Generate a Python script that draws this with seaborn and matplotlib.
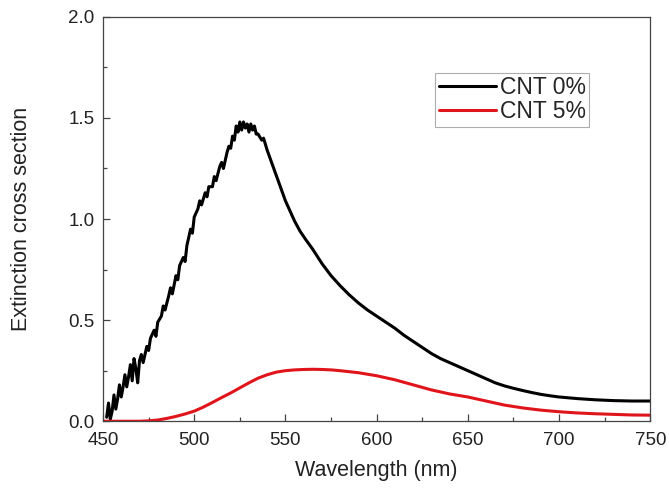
import pandas as pd
import matplotlib
matplotlib.use("Agg")
import matplotlib.pyplot as plt
import seaborn as sns
from matplotlib.ticker import MultipleLocator, FormatStrFormatter

wl_0 = [452, 453, 454, 455, 456, 457, 458, 459, 460, 461, 462, 463, 464, 465,
        466, 467, 468, 469, 470, 471, 472, 474, 475, 476, 478, 479, 480, 482,
        483, 484, 486, 487, 488, 490, 491, 492, 494, 495, 496, 497, 498, 499,
        500, 502, 503, 504, 506, 507, 508, 510, 511, 512, 514, 515, 516, 518,
        519, 520, 521, 522, 523, 524, 525, 526, 527, 528, 529, 530, 531, 532,
        533, 534, 535, 537, 538, 540, 542, 544, 546, 548, 550, 552, 555, 558,
        561, 565, 570, 575, 580, 585, 590, 595, 600, 605, 610, 615, 620, 625,
        630, 635, 640, 645, 650, 655, 660, 665, 670, 675, 680, 685, 690, 695,
        700, 710, 720, 730, 740, 750]
ext_0 = [0.02, 0.09, 0.01, 0.05, 0.13, 0.06, 0.11, 0.18, 0.12, 0.17, 0.23, 0.17,
         0.22, 0.28, 0.20, 0.31, 0.26, 0.19, 0.30, 0.33, 0.29, 0.37, 0.35, 0.41,
         0.45, 0.42, 0.49, 0.52, 0.57, 0.55, 0.62, 0.66, 0.63, 0.72, 0.70, 0.77,
         0.81, 0.79, 0.87, 0.91, 0.95, 0.93, 1.01, 1.05, 1.09, 1.07, 1.13, 1.11,
         1.16, 1.16, 1.21, 1.19, 1.26, 1.28, 1.25, 1.33, 1.36, 1.35, 1.41, 1.39,
         1.46, 1.43, 1.48, 1.44, 1.48, 1.45, 1.47, 1.43, 1.47, 1.44, 1.46, 1.42,
         1.42, 1.39, 1.40, 1.34, 1.29, 1.24, 1.19, 1.14, 1.09, 1.05, 0.99, 0.94,
         0.90, 0.85, 0.78, 0.72, 0.67, 0.625, 0.585, 0.55, 0.52, 0.49, 0.46,
         0.425, 0.395, 0.365, 0.335, 0.31, 0.29, 0.27, 0.25, 0.23, 0.21, 0.19,
         0.175, 0.163, 0.152, 0.142, 0.133, 0.126, 0.12, 0.112, 0.106, 0.102,
         0.10, 0.10]

# CNT 5% (smooth spectrum)
wl_5 = [450, 470, 475, 480, 485, 490, 495, 500, 505, 510, 515, 520, 525, 530,
        535, 540, 545, 550, 555, 560, 565, 570, 575, 580, 590, 600, 610, 620,
        630, 640, 650, 660, 670, 680, 690, 700, 710, 720, 730, 740, 750]
ext_5 = [0.0, 0.0, 0.002, 0.006, 0.014, 0.024, 0.036, 0.05, 0.07, 0.093, 0.117,
         0.14, 0.165, 0.19, 0.213, 0.23, 0.243, 0.25, 0.254, 0.256, 0.257, 0.256,
         0.254, 0.25, 0.24, 0.225, 0.205, 0.18, 0.155, 0.135, 0.12, 0.10, 0.08,
         0.066, 0.055, 0.047, 0.041, 0.037, 0.034, 0.031, 0.03]

labels = ["CNT 0%", "CNT 5%"]

df = pd.concat([
    pd.DataFrame({"wl": wl_0, "ext": ext_0, "sample": labels[0]}),
    pd.DataFrame({"wl": wl_5, "ext": ext_5, "sample": labels[1]}),
])

sns.set_style("white")
plt.rcParams["font.family"] = ["Liberation Sans", "DejaVu Sans"]

fig, ax = plt.subplots(figsize=(6.69, 4.95), dpi=100)
fig.subplots_adjust(left=0.154, right=0.972, bottom=0.149, top=0.966)

sns.lineplot(data=df, x="wl", y="ext", hue="sample", sort=False,
             palette={"CNT 0%": "black", "CNT 5%": "#e0141b"},
             linewidth=2.2, ax=ax)

ax.set_xlim(450, 750)
ax.set_ylim(0, 2.0)
ax.xaxis.set_major_locator(MultipleLocator(50))
ax.xaxis.set_minor_locator(MultipleLocator(25))
ax.yaxis.set_major_locator(MultipleLocator(0.5))
ax.yaxis.set_minor_locator(MultipleLocator(0.25))
ax.yaxis.set_major_formatter(FormatStrFormatter("%.1f"))
ax.tick_params(which="both", bottom=True, left=True, top=False, right=False,
               direction="in", width=0.9, color="#444444")
ax.tick_params(which="major", length=5, labelsize=13.5, labelcolor="#222222")
ax.tick_params(which="minor", length=3)
ax.tick_params(axis="x", which="major", pad=8)
ax.tick_params(axis="y", which="major", pad=6)
for sp in ax.spines.values():
    sp.set_color("#444444")
    sp.set_linewidth(0.9)

ax.set_xlabel("Wavelength (nm)", fontsize=15.5, color="#222222", labelpad=8)
ax.set_ylabel("Extinction cross section", fontsize=15.5, color="#222222",
              labelpad=26)

leg = ax.legend(loc="upper right", bbox_to_anchor=(0.888, 0.862),
                fontsize=16.5, frameon=True, fancybox=False, handlelength=2.5,
                handletextpad=0.15, borderpad=0.15, labelspacing=0.05,
                borderaxespad=0)
leg.get_frame().set_edgecolor("#999999")
leg.get_frame().set_linewidth(0.8)
for line in leg.get_lines():
    line.set_linewidth(2.2)

fig.savefig("out.png", dpi=100)
